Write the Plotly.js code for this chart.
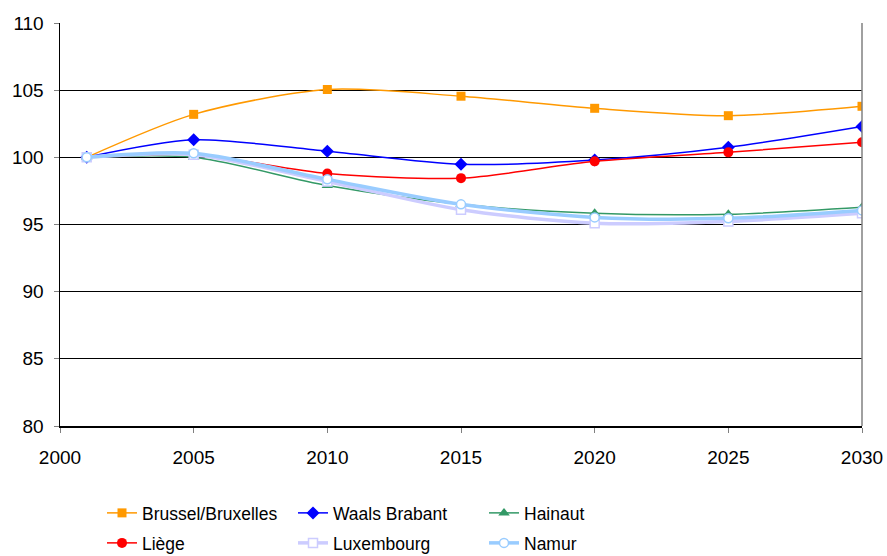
<!DOCTYPE html>
<html>
<head>
<meta charset="utf-8">
<script src="https://cdn.plot.ly/plotly-3.0.1.min.js"></script>
<style>html,body{margin:0;padding:0;background:#fff;}#chart{width:887px;height:556px;}</style>
</head>
<body>
<div id="chart"></div>
<script>
const years = [2001, 2005, 2010, 2015, 2020, 2025, 2030];
const brussel = [100, 103.2, 105.05, 104.55, 103.65, 103.1, 103.8];
const waalsBrabant = [100, 101.3, 100.45, 99.48, 99.8, 100.75, 102.3];
const hainaut = [100, 100.0, 97.9, 96.5, 95.83, 95.76, 96.28];
const liege = [100, 100.2, 98.8, 98.45, 99.7, 100.37, 101.12];
const luxembourg = [100, 100.2, 98.2, 96.1, 95.1, 95.23, 95.83];
const namur = [100, 100.3, 98.36, 96.5, 95.53, 95.46, 96.05];

const names = ["Brussel/Bruxelles", "Waals Brabant", "Hainaut", "Liège", "Luxembourg", "Namur"];
const series = [brussel, waalsBrabant, hainaut, liege, luxembourg, namur];
const colors = ["#FF9900", "#0000FF", "#339966", "#FF0000", "#CCCCFF", "#99CCFF"];
const symbols = ["square", "diamond", "triangle-up", "circle", "square", "circle"];
const widths = [1.5, 1.5, 1.5, 1.5, 3.5, 3.5];
const msizes = [9, 10, 10, 10, 9, 9];

const traces = series.map((s, i) => ({
  x: years, y: s, name: names[i], type: "scatter", mode: "lines+markers",
  legend: i < 3 ? "legend" : "legend2",
  line: {color: colors[i], width: widths[i], shape: "spline", smoothing: 0.8},
  marker: {
    symbol: symbols[i], size: msizes[i],
    color: i >= 4 ? "#FFFFFF" : colors[i],
    line: {color: colors[i], width: i >= 4 ? 1.5 : 0}
  }
}));

const legendBase = {orientation: "h", xref: "container", yref: "container",
  xanchor: "left", yanchor: "middle", entrywidth: 146, entrywidthmode: "pixels",
  font: {size: 17.5}, bgcolor: "rgba(0,0,0,0)"};

const layout = {
  width: 887, height: 556,
  margin: {l: 60, r: 25, t: 23, b: 130, autoexpand: false},
  paper_bgcolor: "#fff", plot_bgcolor: "#fff",
  font: {family: "Liberation Sans, Arial, sans-serif", size: 17, color: "#000"},
  xaxis: {range: [2000, 2030], tickvals: [2000, 2005, 2010, 2015, 2020, 2025, 2030],
    showgrid: false, zeroline: false, showline: true, linecolor: "#000", linewidth: 1.5,
    ticks: "outside", ticklen: 5, tickcolor: "#808080", ticklabelstandoff: 9,
    tickfont: {size: 19}},
  yaxis: {range: [80, 110], tickvals: [80, 85, 90, 95, 100, 105, 110],
    showgrid: true, gridcolor: "#000", gridwidth: 1, zeroline: false,
    showline: true, linecolor: "#000", linewidth: 1.5,
    ticks: "outside", ticklen: 5, tickcolor: "#808080", ticklabelstandoff: 6,
    tickfont: {size: 19}},
  shapes: [{type: "line", xref: "paper", yref: "paper", x0: 1, x1: 1, y0: 0, y1: 1,
    line: {color: "#808080", width: 1.5}}],
  legend: Object.assign({}, legendBase, {x: 102 / 887, y: 1 - 513 / 556}),
  legend2: Object.assign({}, legendBase, {x: 102 / 887, y: 1 - 543 / 556}),
  showlegend: true
};

Plotly.newPlot("chart", traces, layout, {displayModeBar: false, staticPlot: true});
</script>
</body>
</html>
